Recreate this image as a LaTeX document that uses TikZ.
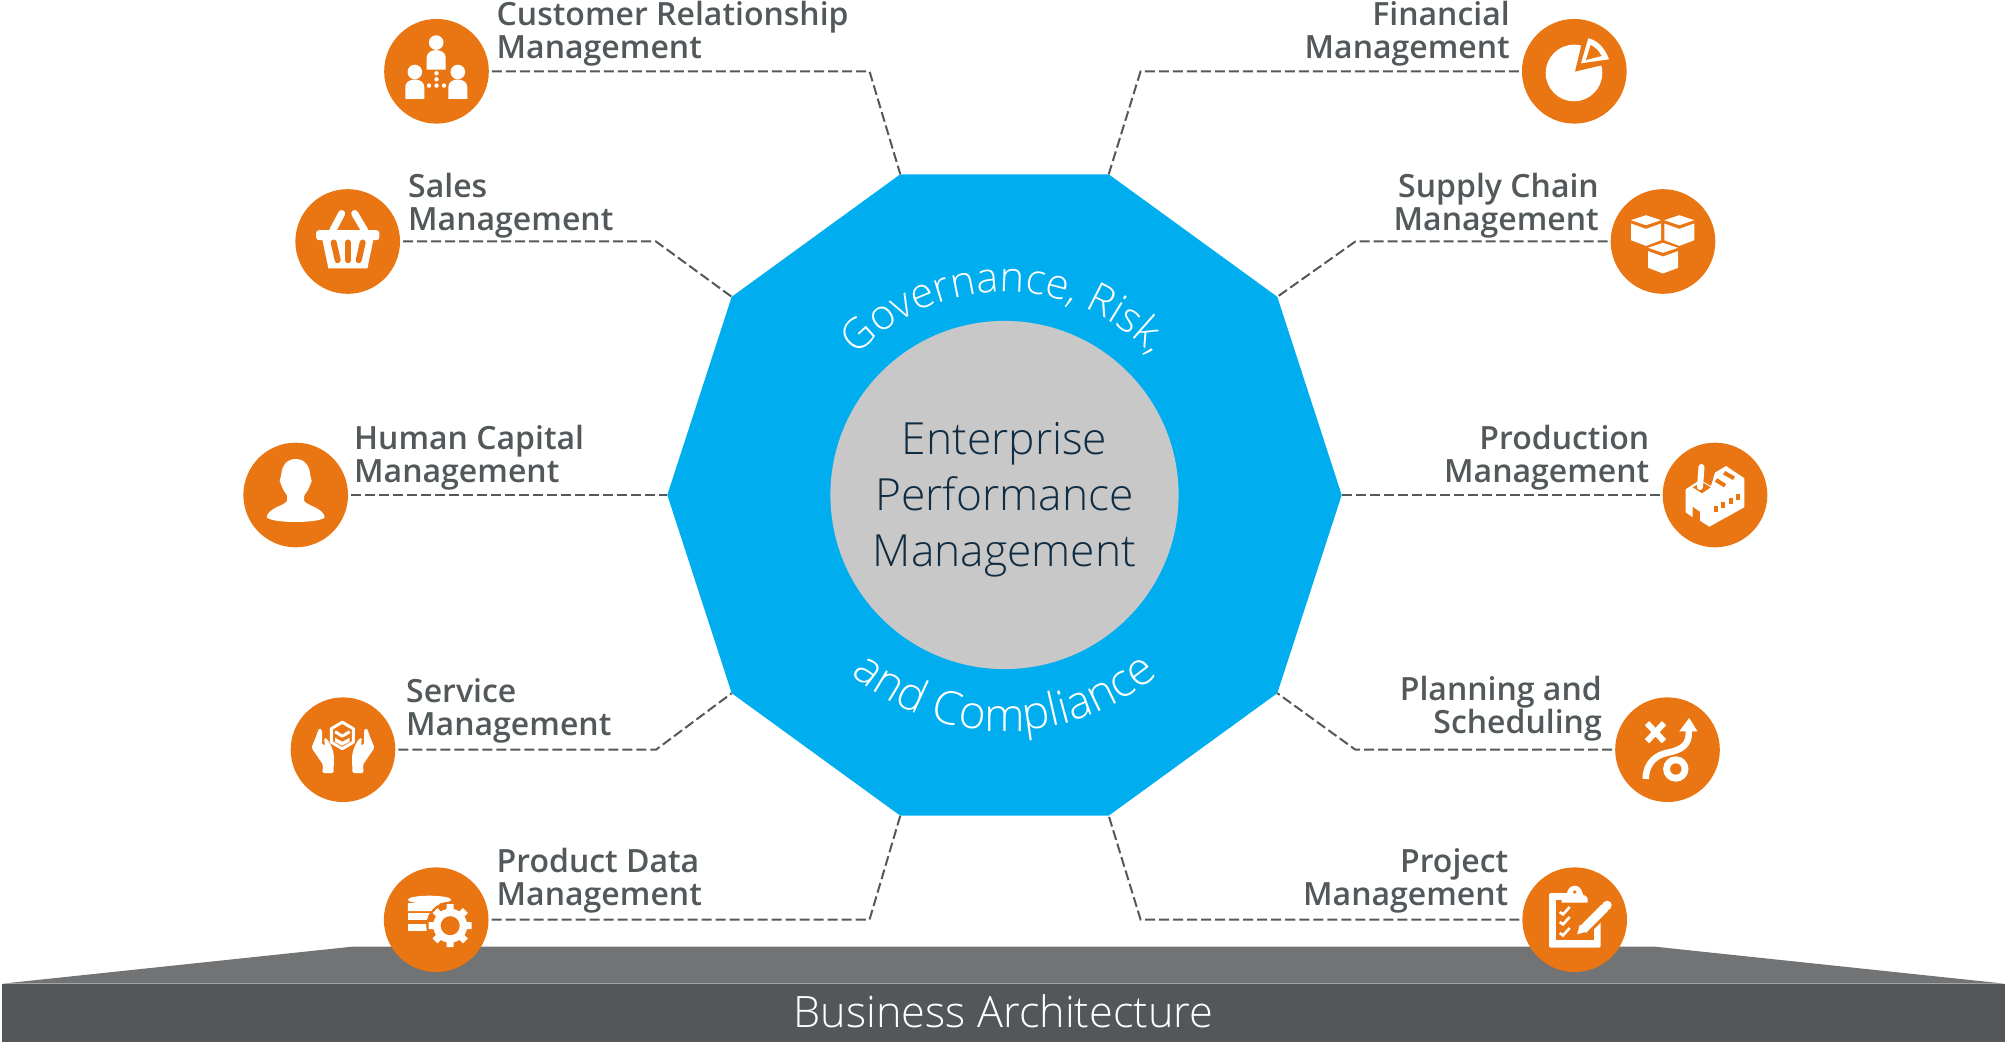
\documentclass[tikz,border=0pt]{standalone}
\usepackage{fontspec}
\setmainfont{Open Sans}
\newfontfamily\lightfont{Open Sans Light}
\newfontfamily\tagfont{Open Sans Semibold}
\usepackage{tikz}
\usetikzlibrary{shapes.geometric,decorations.text}

\definecolor{epmorange}{HTML}{EA7613}
\definecolor{epmblue}{HTML}{00AEEF}
\definecolor{epmcore}{HTML}{C8C8C8}
\definecolor{epmink}{HTML}{0F2C42}
\definecolor{epmslate}{HTML}{53585B}
\definecolor{epmband}{HTML}{53575A}
\definecolor{epmroof}{HTML}{727375}

\tikzset{
  hub/.style={regular polygon,regular polygon sides=10,fill=epmblue,minimum size=6.74cm,inner sep=0pt,outer sep=0pt},
  core/.style={circle,fill=epmcore,minimum size=3.48cm,inner sep=0pt},
  coretext/.style={text=epmink,align=center,inner sep=0pt,font=\lightfont\fontsize{12.6}{15.9}\selectfont},
  badge/.style={circle,fill=epmorange,minimum size=1.046cm,inner sep=0pt,outer sep=0.03cm},
  ltag/.style={anchor=base west,align=left,text=epmslate,inner sep=0pt,font=\tagfont\fontsize{9.1}{9.4}\selectfont},
  rtag/.style={anchor=base east,align=right,text=epmslate,inner sep=0pt,font=\tagfont\fontsize{9.1}{9.4}\selectfont},
  link/.style={draw=epmslate,line width=0.02cm,dash pattern=on 0.1cm off 0.04cm},
  px/.style={line width=#1*0.01cm},
}

\newcommand{\groupbust}[2]{\begin{scope}[shift={(#1,#2)}]
  \fill (0,0) circle (7.3);
  \fill (-9.5,27) -- (-9.5,15) .. controls (-9.5,5) and (9.5,5) .. (9.5,15) -- (9.5,27) -- cycle;
\end{scope}}
\newcommand{\minicube}[2]{\begin{scope}[shift={(#1,#2)}]
  \fill (-15,0) -- (0,-5) -- (15,0) -- (0,5) -- cycle;
  \fill (-15,3.3) -- (0,8.7) -- (15,3.3) -- (15,20) -- (0,25.7) -- (-15,20) -- cycle;
\end{scope}}
\newcommand{\openhand}{
  \fill[rounded corners=0.015cm] (-24,-21.5) -- (-27,-13) -- (-31.5,-2) -- (-20,15) -- (-20.5,23.5) -- (-9.5,23.5) -- (-9,8) .. controls (-9.5,0) and (-13,-6) .. (-16,-11) -- (-19,-12) -- (-18,-4) -- (-21,-5) -- (-21,-20) -- cycle;
}

\begin{document}
\begin{tikzpicture}[x=0.01cm,y=-0.01cm]
\useasboundingbox (0,0) rectangle (2005,1043);

% ground
\fill[epmroof] (2,983.7) -- (352,946.7) -- (1655,946.7) -- (2005,983.7) -- cycle;
\fill[epmband] (2,983.7) rectangle (2005,1042);
\node[text=white,font=\lightfont\fontsize{12.3}{15}\selectfont] (base) at (1003.5,1011) {Business Architecture};

% centre
\node[hub] (octa) at (1004.5,495) {};
\node[core] (epm) at (1004.5,495) {};
\node[coretext] (epmtext) at (1004.5,500) {Enterprise\\Performance\\Management};
\coordinate (govstart) at (828.7,393.5);
\coordinate (compstart) at (800.1,613);
\path[decorate,decoration={text along path,text align=center,text={|\lightfont\fontsize{11.9}{15}\selectfont\color{white}|Governance, Risk,}}] (govstart) arc[start angle=150,end angle=30,radius=2.03cm];
\path[decorate,decoration={text along path,text align=center,text={|\lightfont\fontsize{13.1}{15}\selectfont\color{white}|and Compliance}}] (compstart) arc[start angle=210,end angle=330,radius=2.36cm];

% badges
\node[badge] (crm) at (436.5,71.3) {};
\node[badge] (sales) at (347.7,241.5) {};
\node[badge] (hcm) at (295.7,495) {};
\node[badge] (service) at (343,749.7) {};
\node[badge] (pdm) at (436.2,919.7) {};
\node[badge] (fin) at (1574.3,71.3) {};
\node[badge] (scm) at (1663,241.5) {};
\node[badge] (prod) at (1715,495) {};
\node[badge] (plan) at (1667.5,749.7) {};
\node[badge] (proj) at (1574.7,919.7) {};

% captions
\node[ltag] (crmtag) at (496,59) {Customer Relationship\\Management};
\node[ltag] (salestag) at (407.5,230.5) {Sales\\Management};
\node[ltag] (hcmtag) at (353.5,482.5) {Human Capital\\Management};
\node[ltag] (servicetag) at (405.5,736) {Service\\Management};
\node[ltag] (pdmtag) at (496,906) {Product Data\\Management};
\node[rtag] (fintag) at (1510.5,59) {Financial\\Management};
\node[rtag] (scmtag) at (1599.5,230.5) {Supply Chain\\Management};
\node[rtag] (prodtag) at (1650,482.5) {Production\\Management};
\node[rtag] (plantag) at (1602.5,734) {Planning and\\Scheduling};
\node[rtag] (projtag) at (1509,906) {Project\\Management};

% connectors
\coordinate (crmbend) at (869.5,71.3);
\coordinate (salesbend) at (656,241.5);
\coordinate (servicebend) at (656,749.7);
\coordinate (pdmbend) at (869.5,919.7);
\coordinate (finbend) at (1140.6,71.3);
\coordinate (scmbend) at (1355.4,241.5);
\coordinate (planbend) at (1355.4,749.7);
\coordinate (projbend) at (1140.6,919.7);
\draw[link] (crm.east) -- (crmbend) -- (octa.corner 2);
\draw[link] (sales.east) -- (salesbend) -- (octa.corner 3);
\draw[link] (hcm.east) -- (octa.corner 4);
\draw[link] (service.east) -- (servicebend) -- (octa.corner 5);
\draw[link] (pdm.east) -- (pdmbend) -- (octa.corner 6);
\draw[link] (fin.west) -- (finbend) -- (octa.corner 1);
\draw[link] (scm.west) -- (scmbend) -- (octa.corner 10);
\draw[link] (prod.west) -- (octa.corner 9);
\draw[link] (plan.west) -- (planbend) -- (octa.corner 8);
\draw[link] (proj.west) -- (projbend) -- (octa.corner 7);

% icons
\begin{scope}[shift={(crm)},white]
  \groupbust{-0.3}{-28.7}
  \groupbust{-21.7}{0.7}
  \groupbust{21.3}{0.7}
  \fill (0,2) circle (2.2) (0,8) circle (2.2) (0,14.3) circle (2.2) (-7.5,14.3) circle (2.2) (7.5,14.3) circle (2.2);
\end{scope}

\begin{scope}[shift={(sales)},white]
  \fill[rounded corners=0.03cm] (-31.7,-11.3) rectangle (31.7,-1.3);
  \fill (-26,-5) -- (26.3,-5) -- (19.7,27) -- (-19.3,27) -- cycle;
  \draw[px=7,line cap=round] (-6,-28) -- (-15,-11);
  \draw[px=7,line cap=round] (7,-28) -- (17,-11);
  \draw[epmorange,px=6,line cap=round] (-14,1) -- (-10,18.7);
  \draw[epmorange,px=6,line cap=round] (0.7,1) -- (0.7,18.7);
  \draw[epmorange,px=6,line cap=round] (15,1) -- (11,18.7);
\end{scope}

\begin{scope}[shift={(hcm)},white]
  \fill (0,-36) .. controls (9,-36) and (14,-29) .. (14.5,-20) -- (16,-14) -- (14,-9) .. controls (12,-3) and (9,-1) .. (8.5,1) -- (8.5,6) .. controls (12,11) and (28,13) .. (29,22.5) .. controls (25,26) and (10,27) .. (0,27) .. controls (-10,27) and (-25,26) .. (-29,22.5) .. controls (-28,13) and (-12,11) .. (-8.5,6) -- (-8.5,1) .. controls (-9,-1) and (-12,-3) .. (-14,-9) -- (-16,-14) -- (-14.5,-20) .. controls (-14,-29) and (-9,-36) .. (0,-36) -- cycle;
\end{scope}

\begin{scope}[shift={(service)},white]
  \openhand
  \begin{scope}[xscale=-1]
    \openhand
  \end{scope}
  \draw[px=3,line join=round] (-0.7,-27.5) -- (10.3,-21) -- (10.3,-7.5) -- (-0.7,-1) -- (-11.7,-7.5) -- (-11.7,-21) -- cycle;
  \draw[px=3,line join=round] (-8,-18) -- (-0.7,-13.5) -- (6.7,-18);
  \fill (-8,-12) -- (-0.7,-8) -- (6.7,-12) -- (6.7,-8) -- (-0.7,-4) -- (-8,-8) -- cycle;
\end{scope}

\begin{scope}[shift={(pdm)},white]
  \fill (-6.7,-20) ellipse[x radius=21.7,y radius=4];
  \fill (-28.3,-16.7) -- (4,-16.7) -- (4,-11) -- (-2,-8.7) -- (-28.3,-8.7) -- cycle;
  \fill (-28.3,-6.7) -- (-6,-6.7) -- (-6,0.7) -- (-28.3,0.7) -- cycle;
  \fill (-28.3,4) -- (-6,4) -- (-6,11.3) -- (-28.3,11.3) -- cycle;
  \fill[epmorange] (14,6) circle (24);
  \draw[px=7] (-7.5,6) -- (35.5,6) (14,-15.5) -- (14,27.5) (-1.2,-9.2) -- (29.2,21.2) (-1.2,21.2) -- (29.2,-9.2);
  \fill (14,6) circle (17);
  \fill[epmorange] (14,6) circle (9.5);
\end{scope}

\begin{scope}[shift={(fin)},white]
  \fill (-0.3,1.7) circle (28.3);
  \fill[epmorange] (0.7,0.3) -- (8.5,-32) -- (36,-32) -- (36,-8) -- cycle;
  \fill (6.7,-8) -- (14,-33) .. controls (24,-31) and (31,-22) .. (34.7,-12) -- cycle;
  \fill[epmorange] (11.7,-11.3) -- (16.3,-26.3) .. controls (21,-24) and (25,-20) .. (27.3,-15.3) -- cycle;
\end{scope}

\begin{scope}[shift={(scm)},white]
  \minicube{-17}{-21.3}
  \minicube{16.3}{-21.3}
  \minicube{0}{6.3}
\end{scope}

\begin{scope}[shift={(prod)},white]
  \fill (-29.3,-5.7) -- (-15,-15) -- (-4,-9) -- (0,-22.3) -- (11,-29) -- (29.3,-16.7) -- (29.3,12.3) -- (-5.7,31.7) -- (-15,25.7) -- (-15,16.7) -- (-22.3,11.7) -- (-22.3,22.3) -- (-29.3,17.3) -- cycle;
  \fill[epmorange] (-22.3,-7.7) -- (-13,-13) -- (-4.3,-7.7) -- (-13,-1.7) -- cycle;
  \draw[px=6,line cap=round] (-13.5,-28) -- (-15,-8);
  \draw[epmorange,px=4] (1,-15) -- (10,-9.3) (9,-22.3) -- (19,-16.7);
  \draw[epmorange,px=4] (1,11) -- (1,17) (8.3,7.5) -- (8.3,13.5) (15.7,3.5) -- (15.7,9.5) (23.3,-0.5) -- (23.3,5.5);
\end{scope}

\begin{scope}[shift={(plan)},white]
  \draw[px=6] (-20.5,-26.5) -- (-3.5,-8.5) (-3.5,-26.5) -- (-20.5,-8.5);
  \draw[px=6.5] (-21.7,29.3) .. controls (-21.7,12) and (-10,5) .. (0,3) .. controls (15,0) and (22,-5) .. (21.3,-19);
  \fill (21.7,-31.7) -- (30,-18.3) -- (11.7,-18.3) -- cycle;
  \fill (8.3,19.3) circle (12.7);
  \fill[epmorange] (8.3,19.3) circle (5.7);
\end{scope}

\begin{scope}[shift={(proj)},white]
  \fill[rounded corners=0.02cm] (-25.7,-26.7) rectangle (26,28);
  \fill[epmorange] (-18.3,-19.3) rectangle (19.3,20.7);
  \fill[epmorange] (8,-28) rectangle (27,-6);
  \fill (-13,-17) -- (-13,-20) .. controls (-13,-24) and (-9,-24.5) .. (-8,-25) .. controls (-7,-37) and (7,-37) .. (8,-25) .. controls (9,-24.5) and (13,-24) .. (13,-20) -- (13,-17) -- cycle;
  \fill[epmorange] (0,-27.7) circle (1.8);
  \draw[px=2.6] (-15,-7.7) -- (-11.7,-5.3) -- (-5,-12.7);
  \draw[px=2.6] (-15,2.3) -- (-11.7,4.7) -- (-5,-2.7);
  \draw[px=2.6] (-15,13.3) -- (-11.7,15.7) -- (-5,8.3);
  \draw[epmorange,px=15] (8,10) -- (33,-15);
  \draw[px=9] (8,10) -- (30,-12);
  \draw[px=9,line cap=round] (31.5,-13.5) -- (32.5,-14.5);
  \fill (2.5,14.5) -- (5,5) -- (12,12) -- cycle;
\end{scope}
\end{tikzpicture}
\end{document}
